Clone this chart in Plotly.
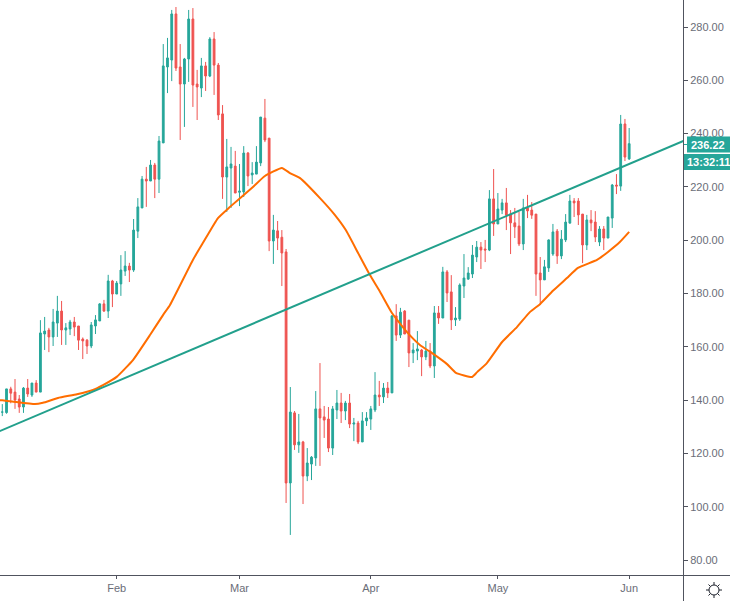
import datetime as dt
import plotly.graph_objects as go

START = dt.date(2020, 1, 5)

opens = [135.5,135.3,144.2,143.0,140.4,137.4,144.5,141.9,146.4,143.0,164.8,166.3,163.7,168.9,173.4,166.3,166.7,169.3,167.8,162.9,
 162.5,160.3,167.8,169.7,176.1,173.4,184.7,179.8,183.6,188.4,190.3,188.8,203.4,212.1,222.9,222.2,228.2,222.9,236.5,265.0,
 267.6,284.9,265.0,258.6,268.0,283.0,258.6,257.1,265.4,261.6,275.5,265.7,247.4,223.7,227.1,227.8,218.0,218.1,232.7,224.5,
 224.8,229.0,245.8,238.3,199.7,203.5,201.1,195.6,108.9,135.2,123.2,124.3,111.5,116.0,118.3,136.7,133.7,132.9,122.0,136.3,
 138.9,135.9,138.9,131.0,131.4,124.3,132.2,132.9,136.3,141.9,141.2,144.5,142.7,171.6,164.4,173.4,170.0,157.7,158.4,158.8,
 156.2,158.4,152.8,172.7,170.8,188.1,180.6,170.1,170.4,182.8,185.4,187.3,193.7,197.4,196.7,196.3,215.5,206.1,211.3,214.0,
 209.8,206.5,205.3,198.6,212.1,211.3,209.8,187.7,185.1,189.6,194.8,203.4,194.1,200.1,206.4,214.7,214.7,209.8,198.2,207.6,
 206.8,199.3,204.2,200.8,208.3,220.7,220.3,243.6,230.5]
highs = [138.5,144.2,145.0,147.9,141.9,144.9,147.9,146.4,147.5,170.0,171.2,167.1,174.2,179.1,177.2,168.9,170.1,171.2,167.8,163.5,
 162.9,169.3,171.9,176.4,177.6,187.0,185.1,184.7,194.4,195.9,191.5,207.95,215.8,224.1,227.5,230.1,229.0,239.1,273.6,275.9,
 286.4,287.5,273.6,268.4,286.4,287.1,263.9,268.4,266.9,276.2,278.1,266.5,250.7,238.0,235.0,233.5,228.6,235.3,233.1,229.3,
 235.3,246.2,253.0,238.3,209.5,207.2,203.8,196.7,144.9,135.9,134.8,124.7,122.0,119.0,143.4,153.9,137.8,137.4,137.8,143.8,
 142.7,139.7,142.3,133.3,132.2,135.5,135.5,137.8,150.5,147.2,146.4,146.8,171.9,176.0,174.6,173.8,170.0,161.4,165.9,159.2,
 162.2,161.4,175.3,175.3,190.0,188.8,186.9,174.9,183.8,194.8,189.9,198.2,199.7,199.3,200.1,218.8,226.7,217.7,215.5,219.6,
 211.3,212.1,210.6,215.5,217.0,214.3,209.8,193.7,192.6,200.3,206.1,204.2,203.8,209.8,217.0,215.8,215.8,209.8,209.5,211.3,
 210.9,205.3,205.3,208.7,221.1,224.8,247.0,245.5,242.1]
lows = [134.0,134.9,138.8,136.7,135.2,135.2,141.2,141.2,143.0,143.0,158.8,158.0,160.3,163.7,160.7,160.7,164.4,164.0,158.8,155.4,
 157.3,159.5,164.8,169.7,173.1,170.8,174.9,179.8,179.1,186.6,184.3,188.1,200.8,212.1,212.5,222.2,215.8,217.7,236.5,255.2,
 259.7,263.5,237.6,242.5,259.4,250.0,245.1,253.7,256.0,261.2,254.5,245.1,215.5,210.6,212.1,217.7,212.8,216.2,220.3,221.1,
 224.8,227.8,236.8,195.9,191.1,196.3,182.8,101.4,89.4,121.3,120.2,101.0,109.6,110.0,115.3,115.3,125.8,120.5,119.4,132.9,
 131.4,132.5,129.5,124.6,123.5,124.3,130.3,128.8,135.5,137.8,138.9,140.8,142.7,162.2,163.3,164.8,152.4,153.9,155.0,149.0,
 155.0,152.0,148.3,168.6,170.8,176.8,166.3,167.8,169.7,178.3,185.1,185.8,191.8,189.2,191.8,195.9,201.6,206.1,209.8,203.8,
 194.8,200.8,197.8,196.3,208.3,208.0,179.1,175.7,185.1,188.1,194.1,191.1,192.9,199.3,206.4,208.7,205.7,191.4,196.3,203.4,
 199.3,197.8,196.3,200.8,204.6,217.3,218.5,229.7,230.1]
closes = [135.5,144.2,142.6,140.0,137.4,144.5,142.3,146.4,143.0,165.2,165.9,163.7,169.3,173.4,166.3,167.1,169.3,167.4,162.5,162.2,
 160.3,168.2,170.1,176.1,173.4,184.7,179.8,183.9,188.8,190.3,188.8,203.8,212.5,222.9,222.2,228.2,222.9,237.2,265.4,268.4,
 284.9,264.6,258.6,268.0,283.0,258.2,257.5,265.4,261.6,275.5,265.7,247.0,223.7,227.5,228.6,217.7,218.4,232.7,224.1,225.2,
 229.3,246.2,237.6,199.7,203.8,200.8,195.2,108.9,135.5,123.2,124.3,111.5,116.4,118.6,136.7,133.3,132.5,122.0,136.7,138.9,
 135.9,138.9,131.0,131.4,124.3,132.2,133.3,136.7,141.9,141.2,144.5,142.7,171.6,164.4,173.0,164.8,157.7,158.8,159.2,156.2,
 158.4,152.8,172.7,170.8,188.1,180.2,170.1,170.8,183.2,185.8,187.7,194.4,197.4,196.3,196.3,215.5,206.1,211.7,214.0,209.4,
 206.5,205.0,198.6,212.1,211.0,209.4,187.3,185.1,190.0,200.1,203.1,194.1,200.4,206.8,214.7,214.0,209.5,198.2,207.6,206.5,
 201.2,204.2,200.8,208.7,220.7,220.3,243.6,231.2,236.22]

ma_index = [-1,0,2.29,7.72,9.6,13.15,17.63,21.41,23.77,27.08,30.85,34.87,37.94,39.59,45,47.38,50.92,53.75,59.18,62,66,67.9,70.3,75,78.5,81.1,84,86.8,89.2,92,95.5,98.6,101.4,105,107.1,110.9,112.1,114.4,118,121.5,124.6,127,130,133.3,135.9,140.4,143,145.8,148]
ma_value = [140.0,139.9,139.5,138.5,139.0,140.8,142.2,143.8,145.6,148.8,155.0,164.4,171.9,175.7,192.6,199.0,208.3,212.5,220.0,224.1,227.1,225.2,223.3,215.8,209.5,203.8,195.2,186.9,180.6,172.7,165.6,160.7,157.7,153.5,150.2,148.7,150.5,153.9,161.8,167.4,173.1,176.1,181.0,185.8,189.6,192.6,195.6,199.3,203.1]

trend_dates = ["2020-01-04", "2020-06-14"]
trend_values = [128.1, 237.4]

month_ticks = ["2020-02-01", "2020-03-01", "2020-04-01", "2020-05-01", "2020-06-01"]
month_labels = ["Feb", "Mar", "Apr", "May", "Jun"]
price_ticks = [80, 100, 120, 140, 160, 180, 200, 220, 240, 260, 280]
last_price = "236.22"
countdown = "13:32:11"

UP, DOWN, ORANGE = "#26a69a", "#ef5350", "#ff6d00"
AXIS, TEXT = "#50535e", "#6a6d78"
FONT = "Liberation Sans"
W, H, R, B = 730, 601, 47, 26
PW, PH = W - R, H - B

dates = [START + dt.timedelta(days=i) for i in range(len(opens))]
ma_dates = [dt.datetime(START.year, START.month, START.day) + dt.timedelta(days=i) for i in ma_index]

fig = go.Figure()
fig.add_trace(go.Candlestick(
    x=dates, open=opens, high=highs, low=lows, close=closes,
    whiskerwidth=0,
    increasing=dict(line=dict(color=UP, width=1), fillcolor=UP),
    decreasing=dict(line=dict(color=DOWN, width=1), fillcolor=DOWN),
    hoverinfo="skip", showlegend=False))
fig.add_trace(go.Scatter(x=ma_dates, y=ma_value, mode="lines",
                         line=dict(color=ORANGE, width=2, shape="spline", smoothing=0.4),
                         hoverinfo="skip", showlegend=False))
fig.add_trace(go.Scatter(x=trend_dates, y=trend_values, mode="lines",
                         line=dict(color="#22a08c", width=2), hoverinfo="skip", showlegend=False))

def px(x): return x / PW
def py(y): return 1 - y / PH

def rect(x0, y0, x1, y1, color):
    return dict(type="rect", xref="paper", yref="paper", x0=px(x0), x1=px(x1), y0=py(y0), y1=py(y1),
                fillcolor=color, line=dict(width=0), layer="above")

def seg(x0, y0, x1, y1, color=AXIS, w=1):
    return dict(type="line", xref="paper", yref="paper", x0=px(x0), x1=px(x1), y0=py(y0), y1=py(y1),
                line=dict(color=color, width=w), layer="above")

shapes = [
    seg(683.5, 0, 683.5, 601),
    seg(0, 575.5, 730, 575.5),
    seg(684, 144.5, 687, 144.5, UP),
    rect(687, 136.5, 730, 152.5, UP),
    rect(684, 154, 730, 170, UP),
]
# settings icon
ICON = "#1e222d"
shapes.append(dict(type="circle", xref="paper", yref="paper", x0=px(709), x1=px(719), y0=py(585), y1=py(595),
                   line=dict(color=ICON, width=1), fillcolor="white", layer="above"))
for a, b, c, d in [(714, 582, 714, 585), (714, 595, 714, 598), (706, 590, 709, 590), (719, 590, 722, 590),
                   (708.5, 584.5, 710.5, 586.5), (719.5, 584.5, 717.5, 586.5),
                   (708.5, 595.5, 710.5, 593.5), (719.5, 595.5, 717.5, 593.5)]:
    shapes.append(seg(a, b, c, d, ICON))

annotations = [
    dict(xref="paper", yref="paper", x=px(708), y=py(144.5), text="<b>%s</b>" % last_price, showarrow=False,
         font=dict(family=FONT, size=11, color="white"), xanchor="center", yanchor="middle"),
    dict(xref="paper", yref="paper", x=px(708), y=py(162), text="<b>%s</b>" % countdown, showarrow=False,
         font=dict(family=FONT, size=11, color="white"), xanchor="center", yanchor="middle"),
]

fig.update_layout(
    width=W, height=H, autosize=False,
    margin=dict(l=0, r=R, t=0, b=B, pad=0),
    paper_bgcolor="white", plot_bgcolor="white",
    boxgap=0.4, showlegend=False, hovermode=False,
    shapes=shapes, annotations=annotations,
    xaxis=dict(type="date", range=["2020-01-04 11:00", "2020-06-13 17:00"],
               rangeslider=dict(visible=False), showgrid=False, zeroline=False,
               tickmode="array", tickvals=month_ticks, ticktext=month_labels,
               ticks="outside", ticklen=3, tickcolor=AXIS,
               tickfont=dict(family=FONT, size=11, color=TEXT), showline=False),
    yaxis=dict(side="right", range=[74.37, 290.13], showgrid=False, zeroline=False,
               tickmode="array", tickvals=price_ticks, tickformat=".2f",
               ticks="outside", ticklen=4, tickcolor=AXIS,
               tickfont=dict(family=FONT, size=11, color=TEXT), showline=False),
)
fig.write_html("out.html", config=dict(displayModeBar=False),
               post_script="document.documentElement.style.overflow='hidden';document.body.style.margin='0';")
